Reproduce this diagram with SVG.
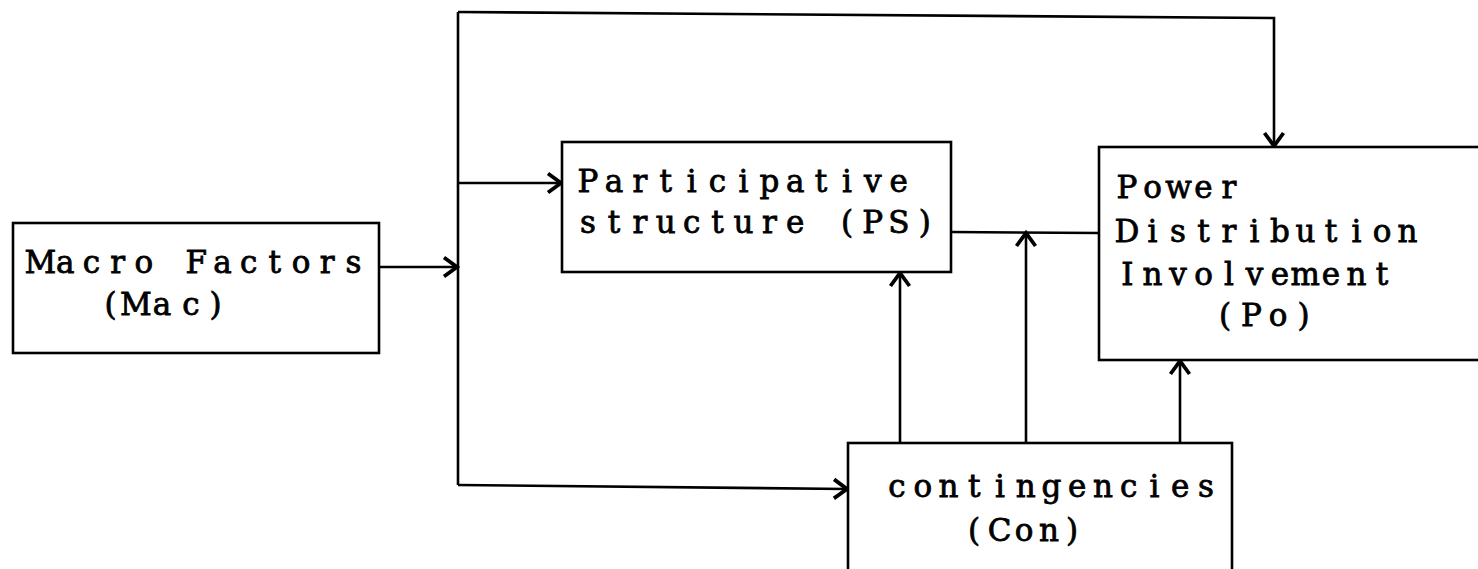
<svg xmlns="http://www.w3.org/2000/svg" width="1478" height="569" viewBox="0 0 1478 569">
  <defs>
    <marker id="arrow" markerUnits="userSpaceOnUse" markerWidth="22" markerHeight="24" refX="15" refY="12" orient="auto">
      <path d="M2,2.5 L15,12 L2,21.5" fill="none" stroke="#000" stroke-width="3.8" stroke-linejoin="miter"/>
    </marker>
    <style>
      .box { fill: #fff; stroke: #000; stroke-width: 2.6; }
      .wire { fill: none; stroke: #000; stroke-width: 2.6; }
      /* typewriter look: slab-serif glyphs placed on a fixed cell grid (x per glyph = cell centre - half advance) */
      .label { font-family: "DejaVu Serif", "Liberation Serif", serif; font-size: 31px; fill: #000; stroke: #000; stroke-width: 0.8; }
    </style>
  </defs>

  <rect width="1478" height="569" fill="#fff"/>

  <!-- connectors -->
  <g id="connectors">
    <!-- Mac into the distribution bus -->
    <line class="wire" x1="379" y1="267" x2="457" y2="267" marker-end="url(#arrow)"/>
    <!-- vertical bus -->
    <line class="wire" x1="458" y1="12" x2="458" y2="485"/>
    <!-- bus over the top to Po -->
    <polyline class="wire" points="458,12 1274,18 1274,146" marker-end="url(#arrow)"/>
    <!-- bus to PS -->
    <line class="wire" x1="458" y1="183" x2="561" y2="183" marker-end="url(#arrow)"/>
    <!-- bus to Con -->
    <line class="wire" x1="458" y1="485" x2="847" y2="489" marker-end="url(#arrow)"/>
    <!-- PS to Po link -->
    <line class="wire" x1="951" y1="232" x2="1099" y2="233"/>
    <!-- Con up to PS -->
    <line class="wire" x1="900" y1="443" x2="900" y2="273" marker-end="url(#arrow)"/>
    <!-- Con up to the PS–Po link -->
    <line class="wire" x1="1026" y1="443" x2="1026" y2="233" marker-end="url(#arrow)"/>
    <!-- Con up to Po -->
    <line class="wire" x1="1180" y1="443" x2="1180" y2="361" marker-end="url(#arrow)"/>
  </g>

  <!-- Macro Factors -->
  <g id="mac">
    <rect class="box" x="13" y="223" width="366" height="130"/>
    <text class="label" y="273" x="24.6 55.95 82.7 110.2 134.45 165.05 185.5 213.15 239.9 268.55 291.65 319.8 345.4">Macro Factors</text>
    <text class="label" y="315" x="104.5 120.1 152.75 182.3 209.5">(Mac)</text>
  </g>

  <!-- Participative structure -->
  <g id="ps">
    <rect class="box" x="562" y="142" width="389" height="130"/>
    <text class="label" y="192" x="577.45 604.65 632.4 659.45 686.65 708.8 738.45 759.4 785.95 814.85 842.05 864.1 889.6">Participative</text>
    <text class="label" y="233" x="580 607.65 632.4 655.75 682.9 711.25 733.45 761.9 786 816.15 840.95 862.35 888.15 918.65">structure (PS)</text>
  </g>

  <!-- Power Distribution Involvement -->
  <g id="po">
    <rect class="box" x="1099" y="147" width="400" height="213"/>
    <text class="label" y="198" x="1116.45 1143.15 1165.3 1194.3 1221.6">Power</text>
    <text class="label" y="242" x="1114.6 1147.55 1170 1197.25 1221.6 1249.55 1270.1 1295.55 1324.75 1351.55 1372.65 1397.55">Distribution</text>
    <text class="label" y="285" x="1121.3 1142.55 1169.2 1194.15 1224.05 1245.7 1270.8 1290.6 1321.8 1346.55 1375.75">Involvement</text>
    <text class="label" y="326" x="1218.95 1240.95 1268.65 1297.45">(Po)</text>
  </g>

  <!-- contingencies -->
  <g id="con">
    <rect class="box" x="848" y="443" width="384" height="150"/>
    <text class="label" y="497" x="888.3 913.4 938.55 968 995.05 1015.8 1041.6 1068.05 1093.05 1120.05 1149.55 1171.05 1198">contingencies</text>
    <text class="label" y="541" x="967.95 987.65 1014.65 1039.05 1066">(Con)</text>
  </g>
</svg>
